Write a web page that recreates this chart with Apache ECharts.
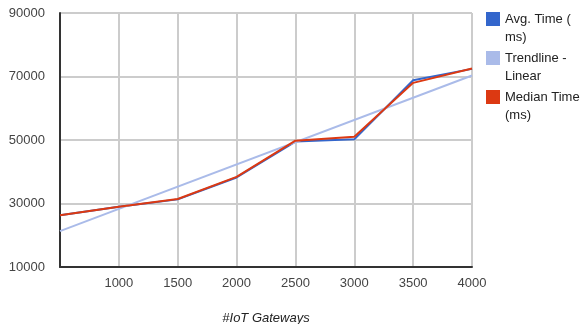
<!DOCTYPE html>
<html>
<head>
<meta charset="utf-8">
<script src="https://cdn.jsdelivr.net/npm/echarts@6/dist/echarts.min.js"></script>
<style>html,body{margin:0;padding:0;background:#fff;}#c{width:583px;height:324px;}</style>
</head>
<body>
<div id="c"></div>
<script>
var gateways = [500, 1000, 1500, 2000, 2500, 3000, 3500, 4000];
var avgTime = [26300, 29000, 31300, 38200, 49500, 50200, 68800, 72400];
var medianTime = [26300, 29000, 31400, 38400, 49800, 51000, 68000, 72500];
var trendX = [500, 4000];
var trendY = [21300, 70300];
var seriesNames = ['Avg. Time ( ms)', 'Trendline - Linear', 'Median Time (ms)'];
var legendLabels = ['Avg. Time (\nms)', 'Trendline -\nLinear', 'Median Time\n(ms)'];
var xAxisTitle = '#IoT Gateways';

function pairs(xs, ys) { return xs.map(function (x, i) { return [x, ys[i]]; }); }

var chart = echarts.init(document.getElementById('c'), null, { renderer: 'canvas' });
var font = 'Liberation Sans, Arial, sans-serif';
chart.setOption({
  animation: false,
  backgroundColor: '#ffffff',
  grid: { left: 60, right: 111, top: 13, bottom: 57, containLabel: false, outerBoundsMode: 'none' },
  legend: {
    orient: 'vertical', left: 486, top: -8, padding: 0,
    itemWidth: 14, itemHeight: 14, itemGap: -15, icon: 'rect',
    data: seriesNames,
    formatter: function (n) { return ' \n' + legendLabels[seriesNames.indexOf(n)]; },
    textStyle: { fontFamily: font, fontSize: 13, lineHeight: 18, color: '#222' }
  },
  xAxis: {
    type: 'value', min: 500, max: 4000, interval: 500,
    name: xAxisTitle, nameLocation: 'middle', nameGap: 45,
    nameTextStyle: { fontFamily: font, fontSize: 13, fontStyle: 'italic', color: '#222' },
    axisLine: { show: true, onZero: false, lineStyle: { color: '#333', width: 2 } },
    axisTick: { show: false },
    axisLabel: { fontFamily: font, fontSize: 13, color: '#444', margin: 10,
      formatter: function (v) { return v === 500 ? '' : String(v); } },
    splitLine: { show: true, lineStyle: { color: '#cccccc', width: 2 } }
  },
  yAxis: {
    type: 'value', min: 10000, max: 90000, interval: 20000,
    axisLine: { show: true, lineStyle: { color: '#333', width: 2 } },
    axisTick: { show: false },
    axisLabel: { fontFamily: font, fontSize: 13, color: '#444', margin: 15,
      formatter: function (v) { return String(v); } },
    splitLine: { show: true, lineStyle: { color: '#cccccc', width: 2 } }
  },
  series: [
    { name: seriesNames[0], type: 'line', symbol: 'none', data: pairs(gateways, avgTime),
      itemStyle: { color: '#3366cc' }, lineStyle: { color: '#3366cc', width: 2 } },
    { name: seriesNames[1], type: 'line', symbol: 'none', data: pairs(trendX, trendY),
      itemStyle: { color: '#aabbe9' }, lineStyle: { color: '#aabbe9', width: 2 } },
    { name: seriesNames[2], type: 'line', symbol: 'none', data: pairs(gateways, medianTime),
      itemStyle: { color: '#dc3912' }, lineStyle: { color: '#dc3912', width: 2 } }
  ]
});
</script>
</body>
</html>
